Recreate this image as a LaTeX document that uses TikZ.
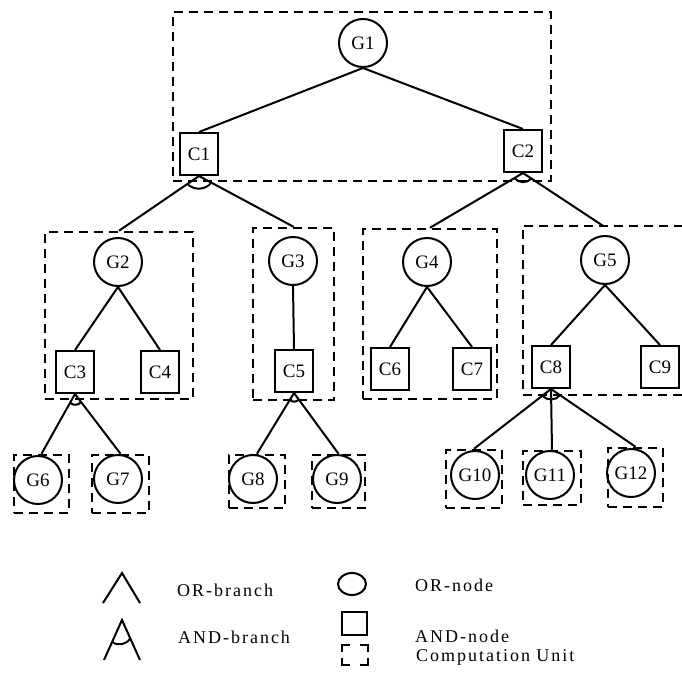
\documentclass[tikz,border=0pt]{standalone}
\usepackage{fontspec}
\setmainfont{Liberation Serif}
\newfontfamily\legfont[LetterSpace=11]{Liberation Serif}
\usetikzlibrary{calc}
\begin{document}
\begin{tikzpicture}[x=1pt,y=1pt,
 gnode/.style={circle,draw,line width=2pt,minimum size=48pt,inner sep=0pt,font=\fontsize{19}{19}\selectfont},
 cnode/.style={rectangle,draw,line width=2pt,minimum width=38pt,minimum height=42pt,inner sep=0pt,font=\fontsize{19}{19}\selectfont},
 unit/.style={draw,line width=2.5pt,dash pattern=on 9pt off 6pt,inner sep=0pt},
 unitbox/.style={inner sep=0pt},
 unitline/.style={line width=2.5pt,dash pattern=on 9pt off 6pt},
 edge/.style={line width=2pt},
 sym/.style={line width=2pt},
 legtext/.style={anchor=base west,inner sep=0pt,font=\fontsize{18}{18}\legfont}
]
\useasboundingbox (0,0) rectangle (681,-683);

% computation units
\node[unit,minimum width=378pt,minimum height=169pt] (U1) at (362,-96.5) {};
\node[unit,minimum width=148pt,minimum height=167pt] (U2) at (119,-315.5) {};
\node[unit,minimum width=81pt,minimum height=172pt] (U3) at (293.5,-314) {};
\node[unit,minimum width=134pt,minimum height=170pt] (U4) at (430,-314) {};
\node[unitbox,minimum width=160pt,minimum height=169pt] (U5) at (603,-310.5) {};
\draw[unitline] (U5.north east) -- (U5.north west) -- (U5.south west) -- (U5.south east);
\node[unit,minimum width=55pt,minimum height=58pt] (U6) at (41.5,-484) {};
\node[unit,minimum width=57pt,minimum height=58pt] (U7) at (120.5,-484) {};
\node[unit,minimum width=56pt,minimum height=53pt] (U8) at (257,-481.5) {};
\node[unit,minimum width=53pt,minimum height=53pt] (U9) at (338.5,-481.5) {};
\node[unit,minimum width=56pt,minimum height=58pt] (U10) at (474,-479) {};
\node[unit,minimum width=58pt,minimum height=54pt] (U11) at (552,-478) {};
\node[unit,minimum width=55pt,minimum height=59pt] (U12) at (635.5,-477.5) {};

% OR nodes
\node[gnode] (G1) at (363,-43) {G1};
\node[gnode] (G2) at (118,-262) {G2};
\node[gnode] (G3) at (293,-261) {G3};
\node[gnode] (G4) at (427,-262) {G4};
\node[gnode] (G5) at (605,-260) {G5};
\node[gnode] (G6) at (38,-480) {G6};
\node[gnode] (G7) at (118,-479) {G7};
\node[gnode] (G8) at (253,-479) {G8};
\node[gnode] (G9) at (337,-479) {G9};
\node[gnode] (G10) at (475,-475) {G10};
\node[gnode] (G11) at (550,-475) {G11};
\node[gnode] (G12) at (631,-473) {G12};

% AND nodes
\node[cnode] (C1) at (199,-154) {C1};
\node[cnode] (C2) at (523,-151) {C2};
\node[cnode] (C3) at (75,-372) {C3};
\node[cnode] (C4) at (160,-372) {C4};
\node[cnode] (C5) at (294,-371) {C5};
\node[cnode] (C6) at (390,-369) {C6};
\node[cnode] (C7) at (472,-369) {C7};
\node[cnode] (C8) at (551,-367) {C8};
\node[cnode] (C9) at (660,-367) {C9};

% branches
\draw[edge] (G1.south) -- (C1.north);
\draw[edge] (G1.south) -- (C2.north);
\draw[edge] (C1.south) -- (U2.north);
\draw[edge] (C1.south) -- (U3.north);
\draw[edge] (C2.south) -- (U4.north);
\draw[edge] (C2.south) -- (U5.north);
\draw[edge] (G2.south) -- (C3.north);
\draw[edge] (G2.south) -- (C4.north);
\draw[edge] (G3.south) -- (C5.north);
\draw[edge] (G4.south) -- (C6.north);
\draw[edge] (G4.south) -- (C7.north);
\draw[edge] (G5.south) -- (C8.north);
\draw[edge] (G5.south) -- (C9.north);
\draw[edge] (C3.south) -- (U6.north);
\draw[edge] (C3.south) -- (U7.north);
\draw[edge] (C5.south) -- (U8.north);
\draw[edge] (C5.south) -- (U9.north);
\draw[edge] (C8.south) -- (U10.north);
\draw[edge] (C8.south) -- (U11.north);
\draw[edge] (C8.south) -- (U12.north);

% AND arcs
\draw[edge] ($(C1.south)!14pt!(U2.north)$) to[bend right=50] ($(C1.south)!14pt!(U3.north)$);
\draw[edge] ($(C2.south)!10pt!(U4.north)$) to[bend right=50] ($(C2.south)!10pt!(U5.north)$);
\draw[edge] ($(C3.south)!10pt!(U6.north)$) to[bend right=50] ($(C3.south)!10pt!(U7.north)$);
\draw[edge] ($(C5.south)!8pt!(U8.north)$) to[bend right=50] ($(C5.south)!8pt!(U9.north)$);
\draw[edge] ($(C8.south)!11pt!(U10.north)$) to[bend right=50] ($(C8.south)!11pt!(U12.north)$);

% legend
\coordinate (orL) at (103,-603);
\coordinate (orT) at (122,-573);
\coordinate (orR) at (140,-603);
\draw[sym] (orL) -- (orT) -- (orR);
\coordinate (anL) at (104,-660);
\coordinate (anT) at (122,-620);
\coordinate (anR) at (140,-660);
\draw[sym] (anL) -- (anT) -- (anR);
\draw[sym] ($(anT)!24pt!(anL)$) to[bend right=50] ($(anT)!20pt!(anR)$);
\draw[sym] (352,-584) ellipse [x radius=14, y radius=11];
\draw[sym] (342,-612) rectangle (367,-635);
\draw[line width=2.5pt] (342,-652) |- (350,-645);
\draw[line width=2.5pt] (360,-645) -| (368,-652);
\draw[line width=2.5pt] (342,-658) |- (350,-665);
\draw[line width=2.5pt] (360,-665) -| (368,-658);
\node[legtext] (t1) at (177,-596) {OR-branch};
\node[legtext] (t2) at (178,-643) {AND-branch};
\node[legtext] (t3) at (415,-591) {OR-node};
\node[legtext] (t4) at (415,-642) {AND-node};
\node[legtext] (t5) at (416,-661) {Computation Unit};
\end{tikzpicture}
\end{document}
